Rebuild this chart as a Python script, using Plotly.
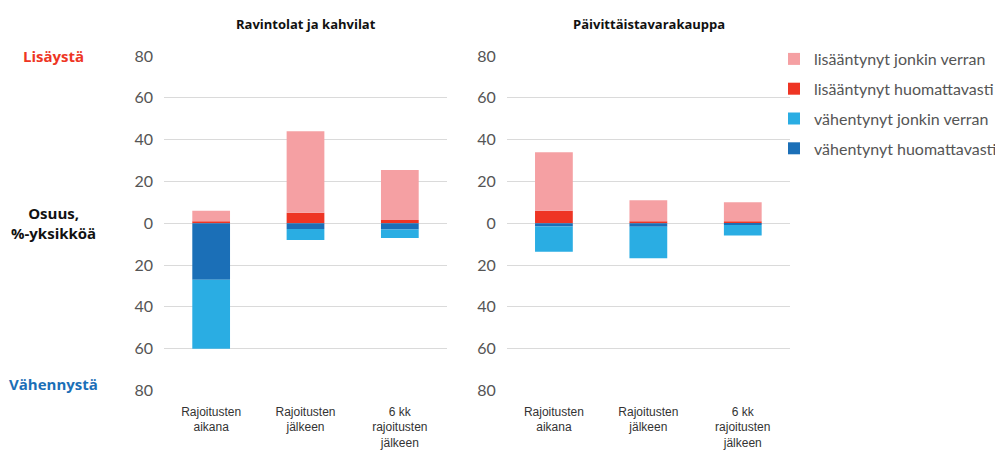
import plotly.graph_objects as go

categories = ["Rajoitusten<br>aikana", "Rajoitusten<br>jälkeen", "6 kk<br>rajoitusten<br>jälkeen"]
panel_titles = ["Ravintolat ja kahvilat", "Päivittäistavarakauppa"]

# Ravintolat ja kahvilat (%-yksikköä)
rav_lis_huom = [1, 5, 1.5]
rav_lis_jonk = [5, 39, 24]
rav_vah_huom = [27, 2.8, 3]
rav_vah_jonk = [33, 5.2, 4]

# Päivittäistavarakauppa (%-yksikköä)
pvt_lis_huom = [6, 1, 1]
pvt_lis_jonk = [28, 10, 9]
pvt_vah_huom = [1.6, 1.7, 0.8]
pvt_vah_jonk = [12, 15, 5]

tick_vals = [-80, -60, -40, -20, 0, 20, 40, 60, 80]
tick_text = ["80", "60", "40", "20", "0", "20", "40", "60", "80"]

C_PINK = "#F5A0A3"
C_RED = "#EE3524"
C_LBLUE = "#2AADE3"
C_DBLUE = "#1B6FB7"

series = [
    ("lisääntynyt huomattavasti", C_RED, 2, rav_lis_huom, pvt_lis_huom, 1),
    ("lisääntynyt jonkin verran", C_PINK, 1, rav_lis_jonk, pvt_lis_jonk, 1),
    ("vähentynyt huomattavasti", C_DBLUE, 4, rav_vah_huom, pvt_vah_huom, -1),
    ("vähentynyt jonkin verran", C_LBLUE, 3, rav_vah_jonk, pvt_vah_jonk, -1),
]

fig = go.Figure()
for name, color, rank, left_vals, right_vals, sign in series:
    fig.add_trace(go.Bar(
        x=categories, y=[sign * v for v in left_vals], name=name,
        marker=dict(color=color, line=dict(width=0)),
        legendgroup=name, legendrank=rank, showlegend=True,
        xaxis="x", yaxis="y", hoverinfo="skip"))
    fig.add_trace(go.Bar(
        x=categories, y=[sign * v for v in right_vals], name=name,
        marker=dict(color=color, line=dict(width=0)),
        legendgroup=name, legendrank=rank, showlegend=False,
        xaxis="x2", yaxis="y2", hoverinfo="skip"))

W, H = 995, 451
ydom = [1 - 390.5 / H, 1 - 56 / H]

tick_font = dict(family="Lato, Open Sans, sans-serif", size=16, color="#555555")
cat_font = dict(family="Liberation Sans Narrow, Arial Narrow, Liberation Sans, sans-serif", size=12, color="#333333")

yaxis_common = dict(
    range=[-80, 80], tickvals=tick_vals, ticktext=tick_text,
    showgrid=True, gridcolor="#DADADA", gridwidth=1.2,
    zeroline=True, zerolinecolor="#DADADA", zerolinewidth=1.2,
    showline=False, tickfont=tick_font, ticks="", ticklabelstandoff=10,
    fixedrange=True, automargin=False,
)
xaxis_common = dict(
    showgrid=False, showline=False, zeroline=False, ticks="",
    tickfont=cat_font, ticklabelstandoff=12, fixedrange=True, automargin=False,
)

fig.update_layout(
    width=W, height=H,
    margin=dict(l=0, r=0, t=0, b=0, autoexpand=False),
    paper_bgcolor="white", plot_bgcolor="white",
    barmode="relative", bargap=0.6,
    xaxis=dict(domain=[164 / W, 447 / W], anchor="y", **xaxis_common),
    yaxis=dict(domain=ydom, anchor="x", **yaxis_common),
    xaxis2=dict(domain=[506.7 / W, 790 / W], anchor="y2", **xaxis_common),
    yaxis2=dict(domain=ydom, anchor="x2", **yaxis_common),
    legend=dict(
        x=774 / W, xanchor="left", y=1 - 42 / H, yanchor="top",
        font=dict(family="Lato, Open Sans, sans-serif", size=16, color="#555555"),
        tracegroupgap=6, itemclick=False, itemdoubleclick=False,
        bgcolor="rgba(0,0,0,0)",
    ),
    showlegend=True,
    hovermode=False,
    font=dict(family="Lato, Open Sans, sans-serif"),
)

bold_font = "Open Sans, Lato, sans-serif"
annos = [
    dict(text="<b>" + panel_titles[0] + "</b>", x=305.5 / W, y=1 - 24 / H,
         font=dict(family=bold_font, size=13, color="#111111")),
    dict(text="<b>" + panel_titles[1] + "</b>", x=648.5 / W, y=1 - 24 / H,
         font=dict(family=bold_font, size=13, color="#111111")),
    dict(text="<b>Lisäystä</b>", x=53 / W, y=1 - 56 / H,
         font=dict(family=bold_font, size=15, color=C_RED)),
    dict(text="<b>Osuus,<br>%-yksikköä</b>", x=53 / W, y=1 - 223 / H,
         font=dict(family=bold_font, size=15, color="#111111")),
    dict(text="<b>Vähennystä</b>", x=53 / W, y=1 - 384 / H,
         font=dict(family=bold_font, size=15, color=C_DBLUE)),
]
for a in annos:
    fig.add_annotation(xref="paper", yref="paper", showarrow=False,
                       xanchor="center", yanchor="middle", **a)

fig.write_html("out.html", config={"displayModeBar": False},
               post_script="document.body.style.margin='0';document.body.style.overflow='hidden';")
